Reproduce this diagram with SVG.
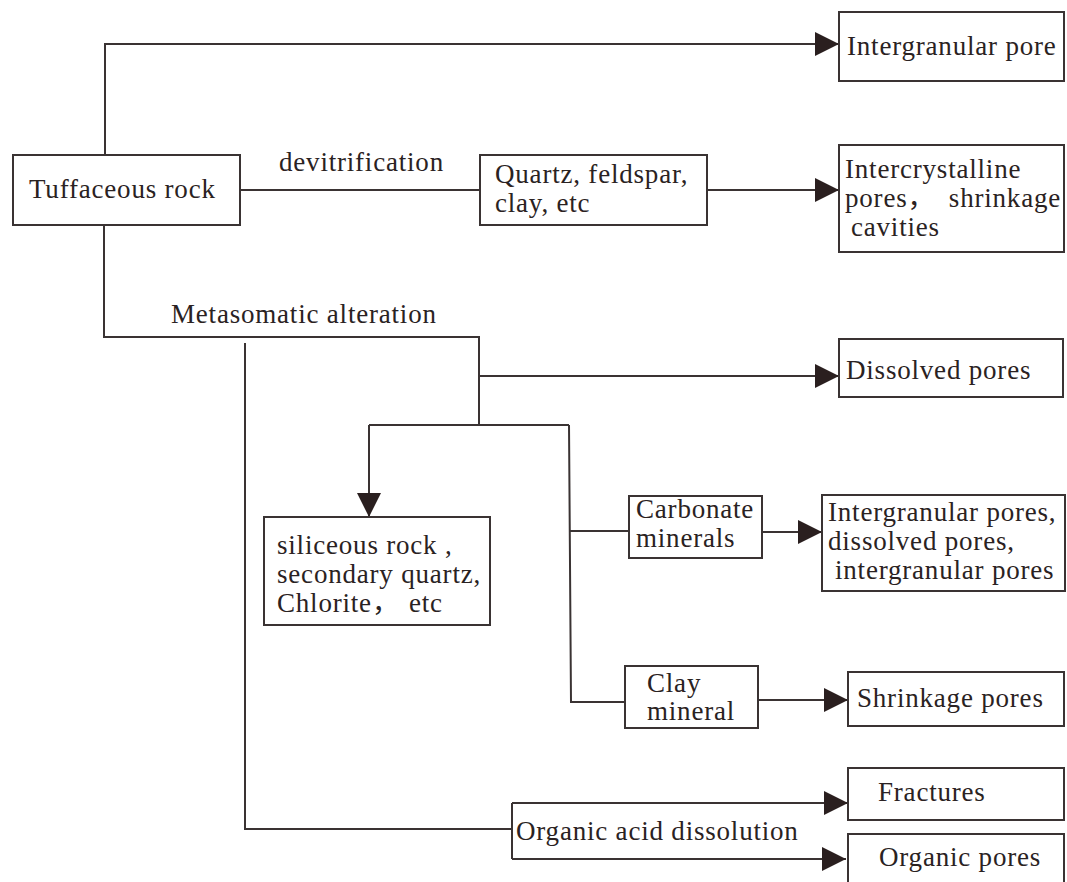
<svg xmlns="http://www.w3.org/2000/svg" width="1067" height="882" viewBox="0 0 1067 882">
<style>
.box{fill:#fff;stroke:#3a3333;stroke-width:2}
.ln{fill:none;stroke:#3a3333;stroke-width:2}
text{font-family:"Liberation Serif","Times New Roman","Noto Sans CJK SC",serif;font-size:27px;fill:#2a2222;letter-spacing:0.8px}
</style>
<defs>
<marker id="ah" markerUnits="userSpaceOnUse" markerWidth="24" markerHeight="24" refX="24" refY="12" orient="auto" viewBox="0 0 24 24">
<path d="M0,0 L24,12 L0,24 Z" fill="#2a1f1f"/>
</marker>
</defs>
<rect width="1067" height="882" fill="#fff"/>
<g id="connectors">
<path class="ln" d="M105,155 V44 H839" marker-end="url(#ah)"/>
<path class="ln" d="M240,190 H480"/>
<path class="ln" d="M707,190 H839" marker-end="url(#ah)"/>
<path class="ln" d="M104,225 V337 H479 V425"/>
<path class="ln" d="M479,376 H839" marker-end="url(#ah)"/>
<path class="ln" d="M369,425 H569"/>
<path class="ln" d="M369,425 V517" marker-end="url(#ah)"/>
<path class="ln" d="M569,425 L571,702 H625"/>
<path class="ln" d="M570,531 H629"/>
<path class="ln" d="M762,532 H822" marker-end="url(#ah)"/>
<path class="ln" d="M758,700 H848" marker-end="url(#ah)"/>
<path class="ln" d="M245,343 V829 H512"/>
<path class="ln" d="M512,803 V859"/>
<path class="ln" d="M512,803 H848" marker-end="url(#ah)"/>
<path class="ln" d="M512,859 H846" marker-end="url(#ah)"/>
</g>
<g id="labels">
<text x="279" y="171">devitrification</text>
<text x="171" y="323">Metasomatic alteration</text>
<text x="516" y="840">Organic acid dissolution</text>
</g>
<g id="tuffaceous">
<rect class="box" x="13" y="155" width="227" height="70"/>
<text x="29" y="198">Tuffaceous rock</text>
</g>
<g id="intergranular-pore">
<rect class="box" x="839" y="12" width="225" height="69"/>
<text x="847" y="55">Intergranular pore</text>
</g>
<g id="quartz">
<rect class="box" x="480" y="155" width="227" height="70"/>
<text x="495" y="183">Quartz, feldspar,</text>
<text x="495" y="212">clay, etc</text>
</g>
<g id="intercrystalline">
<rect class="box" x="839" y="145" width="225" height="107"/>
<text x="845" y="178">Intercrystalline</text>
<text x="845" y="207">pores，</text>
<text x="1061" y="207" text-anchor="end">shrinkage</text>
<text x="851" y="236">cavities</text>
</g>
<g id="dissolved">
<rect class="box" x="839" y="339" width="224" height="58"/>
<text x="846" y="379">Dissolved pores</text>
</g>
<g id="siliceous">
<rect class="box" x="264" y="517" width="226" height="108"/>
<text x="277" y="554">siliceous rock ,</text>
<text x="277" y="583">secondary quartz,</text>
<text x="277" y="612">Chlorite，</text>
<text x="409" y="612">etc</text>
</g>
<g id="carbonate">
<rect class="box" x="629" y="496" width="133" height="62"/>
<text x="636" y="518">Carbonate</text>
<text x="636" y="547">minerals</text>
</g>
<g id="intergranular-pores">
<rect class="box" x="822" y="495" width="243" height="96"/>
<text x="828" y="521">Intergranular pores,</text>
<text x="828" y="550">dissolved pores,</text>
<text x="835" y="579">intergranular pores</text>
</g>
<g id="clay">
<rect class="box" x="625" y="666" width="133" height="62"/>
<text x="647" y="692">Clay</text>
<text x="647" y="720">mineral</text>
</g>
<g id="shrinkage">
<rect class="box" x="848" y="672" width="216" height="54"/>
<text x="857" y="707">Shrinkage pores</text>
</g>
<g id="fractures">
<rect class="box" x="848" y="768" width="216" height="52"/>
<text x="878" y="801">Fractures</text>
</g>
<g id="organic-pores">
<rect class="box" x="848" y="834" width="216" height="60"/>
<text x="879" y="866">Organic pores</text>
</g>
</svg>
